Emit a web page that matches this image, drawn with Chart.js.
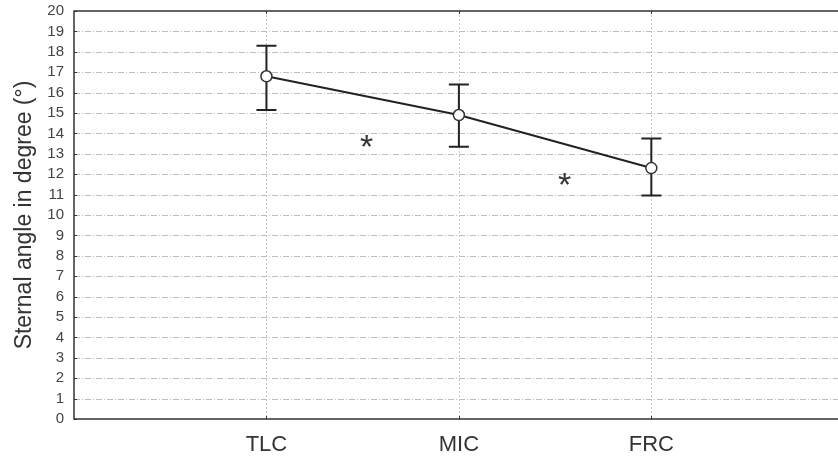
<!DOCTYPE html>
<html><head><meta charset="utf-8">
<script src="https://cdn.jsdelivr.net/npm/chart.js@4/dist/chart.umd.min.js"></script>
<style>html,body{margin:0;padding:0;background:#fff}#wrap{width:838px;height:459px}</style>
</head><body><div id="wrap"><canvas id="c"></canvas></div>
<script>
const categories = ["TLC", "MIC", "FRC"];
const categoryPositions = [1, 2, 3];
const means = [16.8, 14.9, 12.3];
const errUpper = [18.3, 16.4, 13.75];
const errLower = [15.15, 13.35, 10.95];
const starX = [1.52, 2.55];
const starY = [13.6, 11.75];
const yTicks = [0,1,2,3,4,5,6,7,8,9,10,11,12,13,14,15,16,17,18,19,20];

const font = "'Liberation Sans', Arial, sans-serif";

const deco = {
  id: 'deco',
  beforeDatasetsDraw(chart) {
    const {ctx, chartArea: a, scales: {x, y}} = chart;
    ctx.save();
    ctx.strokeStyle = '#bdbdbd'; ctx.lineWidth = 1;
    ctx.setLineDash([6, 2, 1, 2]);
    yTicks.forEach(v => {
      if (v === 0 || v === 20) return;
      const py = Math.round(y.getPixelForValue(v)) + 0.5;
      ctx.beginPath(); ctx.moveTo(a.left, py); ctx.lineTo(a.right, py); ctx.stroke();
    });
    ctx.strokeStyle = '#c4c4c4'; ctx.setLineDash([2, 2]);
    categoryPositions.forEach(v => {
      const px = Math.round(x.getPixelForValue(v)) + 0.5;
      ctx.beginPath(); ctx.moveTo(px, a.top); ctx.lineTo(px, a.bottom); ctx.stroke();
    });
    ctx.setLineDash([]);
    ctx.strokeStyle = '#333'; ctx.lineWidth = 1.5;
    ctx.beginPath();
    ctx.moveTo(a.right, a.top); ctx.lineTo(a.left, a.top); ctx.lineTo(a.left, a.bottom); ctx.lineTo(a.right, a.bottom);
    ctx.stroke();
    ctx.lineWidth = 1;
    yTicks.forEach(v => {
      const py = Math.round(y.getPixelForValue(v)) + 0.5;
      ctx.beginPath(); ctx.moveTo(a.left, py); ctx.lineTo(a.left + 3, py); ctx.stroke();
    });
    categoryPositions.forEach(v => {
      const px = Math.round(x.getPixelForValue(v)) + 0.5;
      ctx.beginPath(); ctx.moveTo(px, a.bottom); ctx.lineTo(px, a.bottom - 3); ctx.stroke();
      ctx.beginPath(); ctx.moveTo(px, a.top); ctx.lineTo(px, a.top + 3); ctx.stroke();
    });
    ctx.strokeStyle = '#222'; ctx.lineWidth = 2;
    categoryPositions.forEach((v, i) => {
      const px = x.getPixelForValue(v);
      const yt = y.getPixelForValue(errUpper[i]);
      const yb = y.getPixelForValue(errLower[i]);
      ctx.beginPath();
      ctx.moveTo(px, yt); ctx.lineTo(px, yb);
      ctx.moveTo(px - 10, yt); ctx.lineTo(px + 10, yt);
      ctx.moveTo(px - 10, yb); ctx.lineTo(px + 10, yb);
      ctx.stroke();
    });
    ctx.restore();
  },
  afterDatasetsDraw(chart) {
    const {ctx, scales: {x, y}} = chart;
    ctx.save();
    ctx.fillStyle = '#333';
    ctx.font = "34px " + font;
    ctx.textAlign = 'center'; ctx.textBaseline = 'middle';
    starX.forEach((v, i) => {
      ctx.fillText('*', x.getPixelForValue(v), y.getPixelForValue(starY[i]) + 7);
    });
    ctx.restore();
  }
};

new Chart(document.getElementById('c'), {
  type: 'line',
  data: {
    datasets: [{
      data: categoryPositions.map((p, i) => ({x: p, y: means[i]})),
      borderColor: '#222', borderWidth: 2,
      pointRadius: 5.5, pointBackgroundColor: '#fff', pointBorderColor: '#333', pointBorderWidth: 1.5,
      tension: 0, fill: false
    }]
  },
  options: {
    responsive: true, maintainAspectRatio: false, animation: false,
    layout: {autoPadding: false, padding: {top: 11, right: 0, left: 0, bottom: 0}},
    plugins: {legend: {display: false}, tooltip: {enabled: false}},
    scales: {
      x: {
        type: 'linear', min: 0, max: 3.97,
        afterFit(s) { s.height = 40; s.paddingLeft = 0; s.paddingRight = 0; },
        afterBuildTicks(s) { s.ticks = categoryPositions.map(v => ({value: v})); },
        grid: {display: false, drawTicks: false}, border: {display: false},
        ticks: {
          autoSkip: false, maxRotation: 0, padding: 13,
          color: '#333', font: {family: font, size: 22},
          callback: (v) => { const i = categoryPositions.indexOf(v); return i >= 0 ? categories[i] : ''; }
        }
      },
      y: {
        min: 0, max: 20,
        afterFit(s) { s.width = 74; s.paddingTop = 0; s.paddingBottom = 0; },
        afterBuildTicks(s) { s.ticks = yTicks.map(v => ({value: v})); },
        grid: {display: false, drawTicks: false}, border: {display: false},
        ticks: {autoSkip: false, padding: 10, color: '#444', font: {family: font, size: 15}},
        title: {display: true, text: 'Sternal angle in degree (°)', color: '#333', font: {family: font, size: 23}, padding: {top: 11, bottom: 4}}
      }
    }
  },
  plugins: [deco]
});
</script></body></html>
